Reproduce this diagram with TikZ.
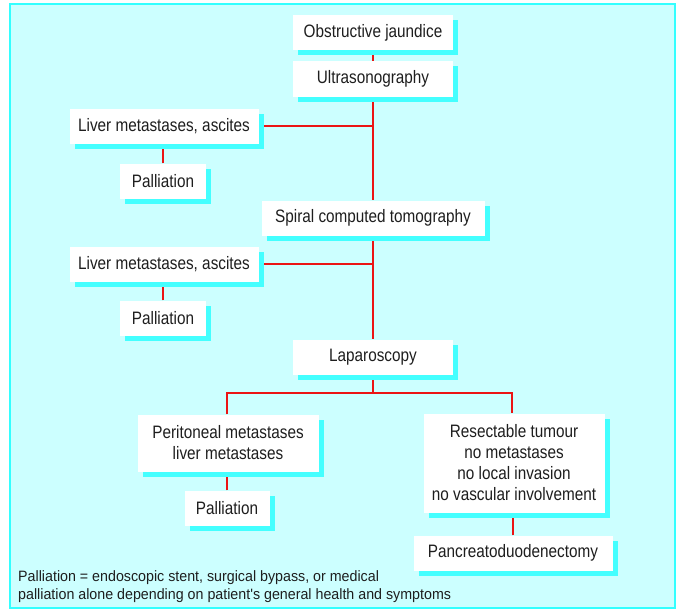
\documentclass[tikz,border=0pt]{standalone}
\usepackage{fontspec}
\setmainfont[FakeStretch=0.85]{Liberation Sans}
\newfontfamily\notefont[FakeStretch=0.95]{Liberation Sans}
\definecolor{panel}{RGB}{204,255,255}
\definecolor{rim}{RGB}{51,255,255}
\definecolor{shade}{RGB}{68,255,255}
\definecolor{route}{RGB}{235,20,20}
\definecolor{ink}{RGB}{30,30,30}
\usetikzlibrary{backgrounds,shadows}
\tikzset{
  step box/.style={fill=white, inner sep=2pt, align=center, text=ink,
              font=\fontsize{18}{21}\selectfont, minimum height=35pt,
              drop shadow={shadow xshift=5pt, shadow yshift=-5pt, fill=shade, opacity=1}},
  link/.style={draw=route, line width=1.6pt},
}

\begin{document}
\begin{tikzpicture}[x=1pt, y=-1pt]
  \useasboundingbox (0,0) rectangle (685,610);
  % main column
  \node[step box, minimum width=160pt] (jaun)  at (373,33)  {Obstructive jaundice};
  \node[step box, minimum width=160pt] (usg)   at (373,79)  {Ultrasonography};
  \node[step box, minimum width=189pt] (liv1)  at (164,126) {Liver metastases, ascites};
  \node[step box, minimum width=86pt]  (pal1)  at (163,181) {Palliation};
  \node[step box, minimum width=223pt] (ct)    at (373,218) {Spiral computed tomography};
  \node[step box, minimum width=189pt] (liv2)  at (164,264) {Liver metastases, ascites};
  \node[step box, minimum width=86pt]  (pal2)  at (163,318) {Palliation};
  \node[step box, minimum width=160pt] (lap)   at (373,357) {Laparoscopy};
  % after laparoscopy
  \node[step box, minimum width=181pt, minimum height=57pt] (peri) at (228,443) {Peritoneal metastases\\liver metastases};
  \node[step box, minimum width=85pt]  (pal3)  at (227,508) {Palliation};
  \node[step box, minimum width=181pt, minimum height=99pt] (res) at (514,463)
       {Resectable tumour\\no metastases\\no local invasion\\no vascular involvement};
  \node[step box, minimum width=199pt] (pd)    at (513,553) {Pancreatoduodenectomy};
  \coordinate (split) at (373,393);
  % footnote
  \node[anchor=base west, align=left, inner sep=0pt, text=ink,
        font=\notefont\fontsize{15}{18}\selectfont] (note) at (18,599)
       {Palliation = endoscopic stent, surgical bypass, or medical\\
        palliation alone depending on patient's general health and symptoms};
  \begin{scope}[on background layer]
    \draw[fill=panel, draw=rim, line width=2pt] (10,4) rectangle (675,608);
    \draw[link] (jaun) -- (usg);
    \draw[link] (usg) -- (ct);
    \draw[link] (ct) -- (lap);
    \draw[link] (liv1.east) -- (liv1.east -| usg.south);
    \draw[link] (liv2.east) -- (liv2.east -| ct.south);
    \draw[link] (pal1.north) -- (pal1.north |- liv1.south);
    \draw[link] (pal2.north) -- (pal2.north |- liv2.south);
    \draw[link] (lap) -- (split);
    \draw[link] (peri.north -| pal3.north) |- (split) -| ([xshift=-2pt]res.north);
    \draw[link] (pal3.north) -- (pal3.north |- peri.south);
    \draw[link] (pd.north) -- (pd.north |- res.south);
  \end{scope}
\end{tikzpicture}
\end{document}
